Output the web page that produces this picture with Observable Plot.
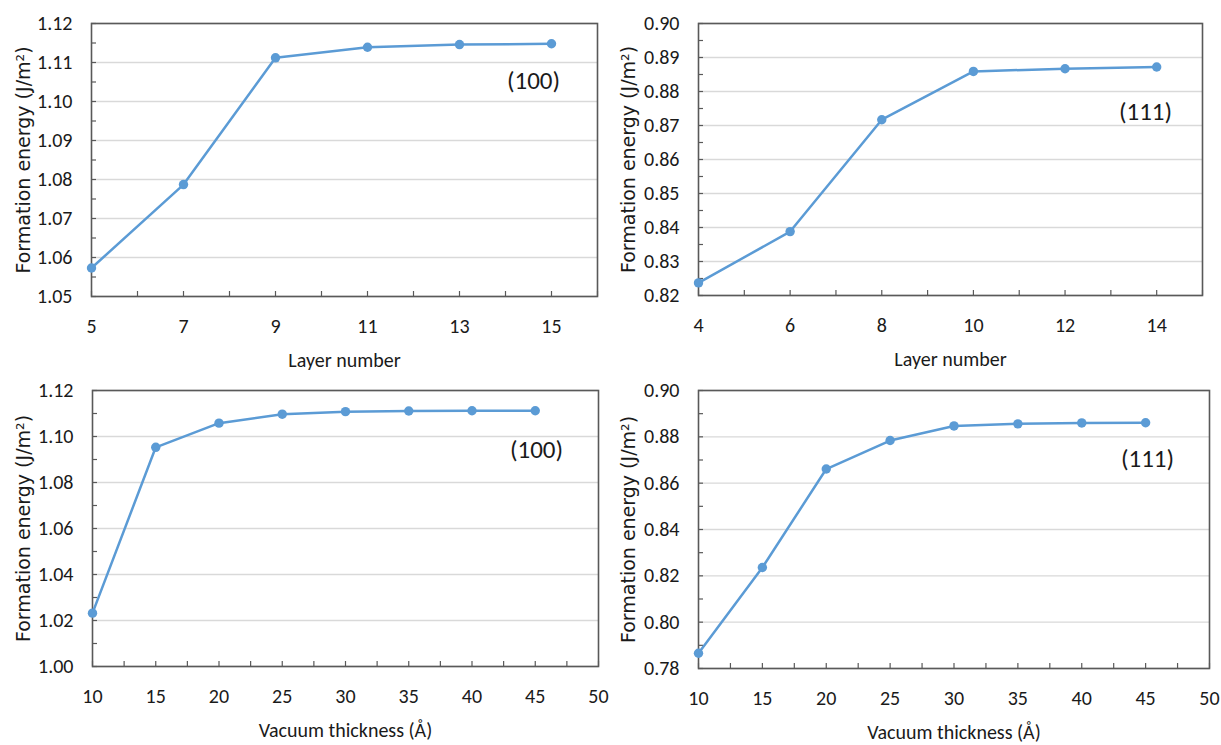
<!DOCTYPE html>
<html><head><meta charset="utf-8">
<script src="https://cdn.jsdelivr.net/npm/d3@7"></script>
<script src="https://cdn.jsdelivr.net/npm/@observablehq/plot@0.6"></script>
<style>
body{margin:0;background:#fff;}
#wrap{position:relative;width:1221px;height:745px;background:#fff;}
.panel{position:absolute;}
</style></head><body><div id="wrap"></div>
<script>
// ---- data ----
const layers100 = [5, 7, 9, 11, 13, 15];
const energy100Layers = [1.0573, 1.0787, 1.1112, 1.1139, 1.1146, 1.1148];
const layers111 = [4, 6, 8, 10, 12, 14];
const energy111Layers = [0.8237, 0.8388, 0.8717, 0.8859, 0.8867, 0.8872];
const vacuum = [10, 15, 20, 25, 30, 35, 40, 45];
const energy100Vacuum = [1.0232, 1.0953, 1.1058, 1.1097, 1.1108, 1.1111, 1.1112, 1.1112];
const energy111Vacuum = [0.7866, 0.8236, 0.8661, 0.8784, 0.8847, 0.8856, 0.8860, 0.8861];

const xTicks100L = [5, 7, 9, 11, 13, 15];
const xTicks111L = [4, 6, 8, 10, 12, 14];
const xTicksVac = [10, 15, 20, 25, 30, 35, 40, 45, 50];
const yTicks100L = [1.05, 1.06, 1.07, 1.08, 1.09, 1.10, 1.11, 1.12];
const yTicks111L = [0.82, 0.83, 0.84, 0.85, 0.86, 0.87, 0.88, 0.89, 0.90];
const yTicks100V = [1.00, 1.02, 1.04, 1.06, 1.08, 1.10, 1.12];
const yTicks111V = [0.78, 0.80, 0.82, 0.84, 0.86, 0.88, 0.90];

const labels = ["(100)", "(111)", "(100)", "(111)"];
const xTitleLayer = "Layer number";
const xTitleVac = "Vacuum thickness (Å)";
const yTitle = "Formation energy (J/m²)";

const FONT = "Carlito, 'Open Sans', sans-serif";
const BLUE = "#5B9BD5";
const AXIS = "#595959";
const INK = "#1a1a1a";

function range(a, b, s) { const out = []; for (let v = a; v <= b + 1e-9; v += s) out.push(+v.toFixed(4)); return out; }

function panel(o) {
  const data = o.xs.map((x, i) => ({x, y: o.ys[i]}));
  const pw = o.w - o.ml - o.mr, ph = o.h - o.mt - o.mb;
  const el = Plot.plot({
    width: o.w, height: o.h,
    marginLeft: o.ml, marginRight: o.mr, marginTop: o.mt, marginBottom: o.mb,
    style: {fontFamily: FONT, fontSize: "20px", color: INK, background: "transparent", overflow: "visible"},
    x: {domain: o.xDomain, ticks: o.xTicks, tickSize: 0, tickPadding: 22, tickFormat: d => String(d), label: null},
    y: {domain: o.yDomain, ticks: o.yTicks, tickSize: 0, tickPadding: 19, tickFormat: d3.format(".2f"), label: null},
    marks: [
      Plot.ruleY(o.yTicks, {stroke: "#d9d9d9", strokeWidth: 1.3}),
      Plot.ruleY(o.yMinor, {insetRight: pw - 5, stroke: AXIS, strokeWidth: 1.2}),
      Plot.ruleX(o.xMinor, {insetTop: ph - 5, stroke: AXIS, strokeWidth: 1.2}),
      Plot.frame({stroke: AXIS, strokeWidth: 1.6}),
      Plot.line(data, {x: "x", y: "y", stroke: BLUE, strokeWidth: 2.5}),
      Plot.dot(data, {x: "x", y: "y", fill: BLUE, r: 4.7}),
      Plot.text([o.label], {frameAnchor: "top-right", text: d => d, dx: o.ldx, dy: o.ldy, textAnchor: "middle", lineAnchor: "middle", fontSize: 25, fill: INK}),
      Plot.text([o.xTitle], {frameAnchor: "bottom", text: d => d, dy: 64, lineAnchor: "middle", fontSize: 20, fill: INK}),
      Plot.text([yTitle], {frameAnchor: "left", text: d => d, dx: -(o.ml - o.ytx), rotate: -90, lineAnchor: "middle", textAnchor: "middle", fontSize: 19, fontFamily: "'DejaVu Sans', sans-serif", fill: INK})
    ]
  });
  el.classList.add("panel");
  el.style.left = o.left + "px";
  el.style.top = o.top + "px";
  document.getElementById("wrap").appendChild(el);
}

panel({left: 0, top: 0, w: 610, h: 372, ml: 91, mr: 13, mt: 23, mb: 76, ytx: 23,
  xDomain: [5, 16], xTicks: xTicks100L, xMinor: range(5, 16, 1),
  yDomain: [1.05, 1.12], yTicks: yTicks100L, yMinor: range(1.05, 1.12, 0.005),
  xs: layers100, ys: energy100Layers, label: labels[0], ldx: -64, ldy: 57, xTitle: xTitleLayer});

panel({left: 610, top: 0, w: 611, h: 372, ml: 88, mr: 19, mt: 23, mb: 77, ytx: 18,
  xDomain: [4, 15], xTicks: xTicks111L, xMinor: range(4, 15, 1),
  yDomain: [0.82, 0.90], yTicks: yTicks111L, yMinor: range(0.82, 0.90, 0.005),
  xs: layers111, ys: energy111Layers, label: labels[1], ldx: -57, ldy: 88, xTitle: xTitleLayer});

panel({left: 0, top: 372, w: 610, h: 373, ml: 92, mr: 12, mt: 18, mb: 79, ytx: 23,
  xDomain: [10, 50], xTicks: xTicksVac, xMinor: range(10, 50, 2.5),
  yDomain: [1.00, 1.12], yTicks: yTicks100V, yMinor: range(1.00, 1.12, 0.01),
  xs: vacuum, ys: energy100Vacuum, label: labels[2], ldx: -62, ldy: 59, xTitle: xTitleVac});

panel({left: 610, top: 372, w: 611, h: 373, ml: 88, mr: 12, mt: 18, mb: 77, ytx: 18,
  xDomain: [10, 50], xTicks: xTicksVac, xMinor: range(10, 50, 2.5),
  yDomain: [0.78, 0.90], yTicks: yTicks111V, yMinor: range(0.78, 0.90, 0.01),
  xs: vacuum, ys: energy111Vacuum, label: labels[3], ldx: -62, ldy: 68, xTitle: xTitleVac});
</script>
</body></html>
